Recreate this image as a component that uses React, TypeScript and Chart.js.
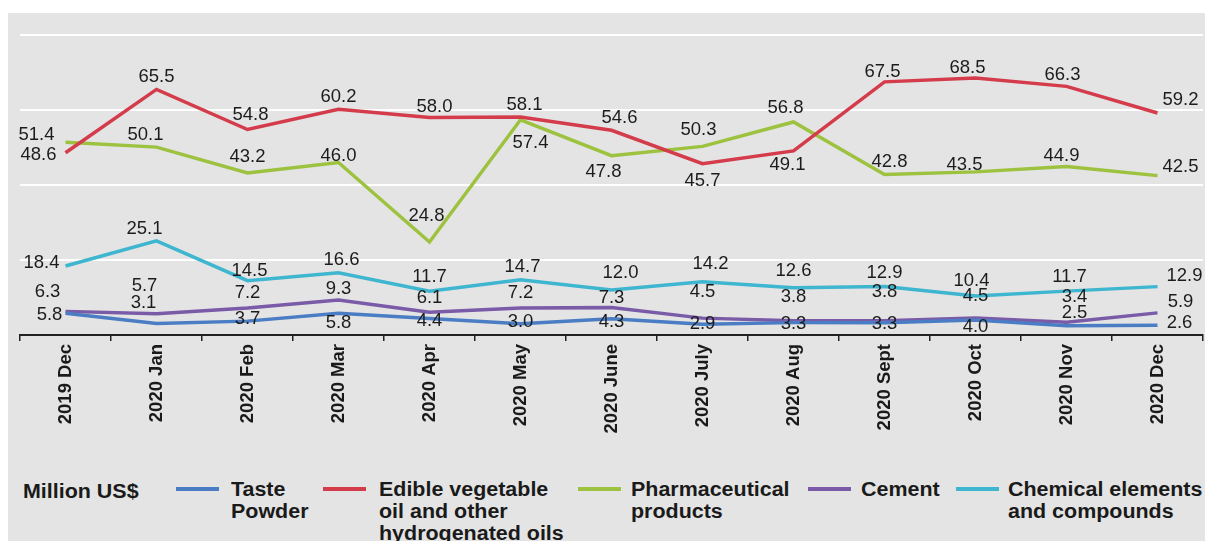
import React, { useEffect, useRef } from "react";
import { Chart, registerables } from "chart.js";

Chart.register(...registerables);

// ---------- data ----------
const categories = [
  "2019 Dec", "2020 Jan", "2020 Feb", "2020 Mar", "2020 Apr", "2020 May", "2020 June",
  "2020 July", "2020 Aug", "2020 Sept", "2020 Oct", "2020 Nov", "2020 Dec",
];
const tastePowder = [5.8, 3.1, 3.7, 5.8, 4.4, 3.0, 4.3, 2.9, 3.3, 3.3, 4.0, 2.5, 2.6];
const edibleOil = [48.6, 65.5, 54.8, 60.2, 58.0, 58.1, 54.6, 45.7, 49.1, 67.5, 68.5, 66.3, 59.2];
const pharmaceutical = [51.4, 50.1, 43.2, 46.0, 24.8, 57.4, 47.8, 50.3, 56.8, 42.8, 43.5, 44.9, 42.5];
const cement = [6.3, 5.7, 7.2, 9.3, 6.1, 7.2, 7.3, 4.5, 3.8, 3.8, 4.5, 3.4, 5.9];
const chemicals = [18.4, 25.1, 14.5, 16.6, 11.7, 14.7, 12.0, 14.2, 12.6, 12.9, 10.4, 11.7, 12.9];
const yTicks = [0, 20, 40, 60, 80];
const unitLabel = "Million US$";
const seriesNames = [
  ["Taste", "Powder"],
  ["Edible vegetable", "oil and other", "hydrogenated oils"],
  ["Pharmaceutical", "products"],
  ["Cement"],
  ["Chemical elements", "and compounds"],
];

// ---------- style ----------
const FONT = '"Liberation Sans", Arial, Helvetica, sans-serif';
const COLORS = ["#4a7dc4", "#d43c4c", "#9dc23f", "#7a5ba8", "#3fb6cf"];
const BG = "#e4e4e4";

// label offsets (dx, dy) from each point, in pixels
const labelOffsets: number[][][] = [
  // taste powder
  [[-16, 2], [-13, -20], [0, -2], [0, 10], [0, 2], [0, -2], [0, 3], [0, 0], [0, 1], [0, 1], [0, 7], [8, -13], [22, -2]],
  // edible oil
  [[-27, 2], [0, -12], [3, -15], [0, -12], [5, -11], [4, -12], [8, -12], [0, 17], [-6, 14], [-2, -10], [-8, -10], [-4, -11], [23, -13]],
  // pharmaceutical
  [[-29, -7], [-11, -12], [0, -16], [0, -7], [-3, -26], [10, 23], [-8, 16], [-4, -16], [-8, -14], [5, -13], [-11, -7], [-5, -11], [23, -9]],
  // cement
  [[-18, -19], [-12, -28], [0, -15], [0, -11], [0, -14], [0, -15], [0, -10], [0, -26], [0, -24], [0, -29], [0, -22], [8, -25], [23, -11]],
  // chemicals
  [[-24, -3], [-12, -12], [2, -10], [3, -13], [0, -14], [2, -13], [9, -17], [8, -18], [0, -17], [0, -14], [-4, -15], [3, -14], [27, -11]],
];

const valueLabelPlugin = {
  id: "valueLabels",
  afterDatasetsDraw(chart: any) {
    const ctx = chart.ctx;
    ctx.save();
    ctx.font = `18.5px ${FONT}`;
    ctx.fillStyle = "#1c1c1c";
    ctx.textAlign = "center";
    ctx.textBaseline = "middle";
    chart.data.datasets.forEach((ds: any, di: number) => {
      const meta = chart.getDatasetMeta(di);
      meta.data.forEach((pt: any, i: number) => {
        const off = labelOffsets[di][i] || [0, -13];
        ctx.fillText(Number(ds.data[i]).toFixed(1), pt.x + off[0], pt.y + off[1]);
      });
    });
    ctx.restore();
  },
};

const allSeries = [tastePowder, edibleOil, pharmaceutical, cement, chemicals];

function ChartCanvas() {
  const ref = useRef<HTMLCanvasElement | null>(null);
  useEffect(() => {
    if (!ref.current) return;
    const chart = new Chart(ref.current, {
      type: "line",
      data: {
        labels: categories,
        datasets: allSeries.map((d, i) => ({
          label: seriesNames[i].join(" "),
          data: d,
          borderColor: COLORS[i],
          backgroundColor: COLORS[i],
          borderWidth: 3.5,
          pointRadius: 0,
          tension: 0,
          fill: false,
        })),
      },
      options: {
        animation: false,
        responsive: false,
        devicePixelRatio: 1,
        layout: { padding: { left: 12, right: 10, top: 22, bottom: 0 } },
        plugins: { legend: { display: false }, tooltip: { enabled: false } },
        scales: {
          x: {
            offset: true,
            grid: {
              offset: true,
              drawOnChartArea: false,
              drawTicks: true,
              tickLength: 6,
              color: "#222",
              lineWidth: 1.5,
            },
            border: { display: true, color: "#222", width: 2 },
            ticks: {
              autoSkip: false,
              maxRotation: 90,
              minRotation: 90,
              padding: 3,
              color: "#1a1a1a",
              font: { family: FONT, size: 18.5, weight: "bold" },
            },
            afterFit: (s: any) => {
              s.height = 120;
            },
          },
          y: {
            min: 0,
            max: 80,
            afterBuildTicks: (s: any) => {
              s.ticks = yTicks.map((v) => ({ value: v }));
            },
            ticks: { display: false },
            grid: {
              drawTicks: false,
              lineWidth: 2,
              color: (c: any) => (c.tick && c.tick.value === 0 ? "rgba(0,0,0,0)" : "#ffffff"),
            },
            border: { display: false },
            afterFit: (s: any) => {
              s.width = 0;
            },
          },
        },
      },
      plugins: [valueLabelPlugin],
    } as any);
    return () => chart.destroy();
  }, []);
  return <canvas ref={ref} width={1205} height={442} style={{ position: "absolute", left: 0, top: 0, width: 1205, height: 442 }} />;
}

const legendLines = [
  { line: 168, text: 223 },
  { line: 315, text: 371 },
  { line: 570, text: 623 },
  { line: 800, text: 853 },
  { line: 948, text: 1000 },
];

export default function App() {
  const textStyle: React.CSSProperties = {
    position: "absolute",
    fontFamily: FONT,
    fontWeight: "bold",
    fontSize: 19.5,
    lineHeight: "22px",
    color: "#1a1a1a",
    whiteSpace: "nowrap",
    transform: "scaleX(1.1)",
    transformOrigin: "left top",
  };
  return (
    <div style={{ position: "relative", top: 5, width: 1205, height: 533, background: BG, overflow: "hidden" }}>
      <ChartCanvas />
      <div style={{ ...textStyle, left: 15, top: 467 }}>{unitLabel}</div>
      {seriesNames.map((lines, i) => (
        <React.Fragment key={i}>
          <div style={{ position: "absolute", left: legendLines[i].line, top: 474, width: 43, height: 4, background: COLORS[i] }} />
          <div style={{ ...textStyle, left: legendLines[i].text, top: 465 }}>
            {lines.map((l, j) => (
              <div key={j}>{l}</div>
            ))}
          </div>
        </React.Fragment>
      ))}
    </div>
  );
}
